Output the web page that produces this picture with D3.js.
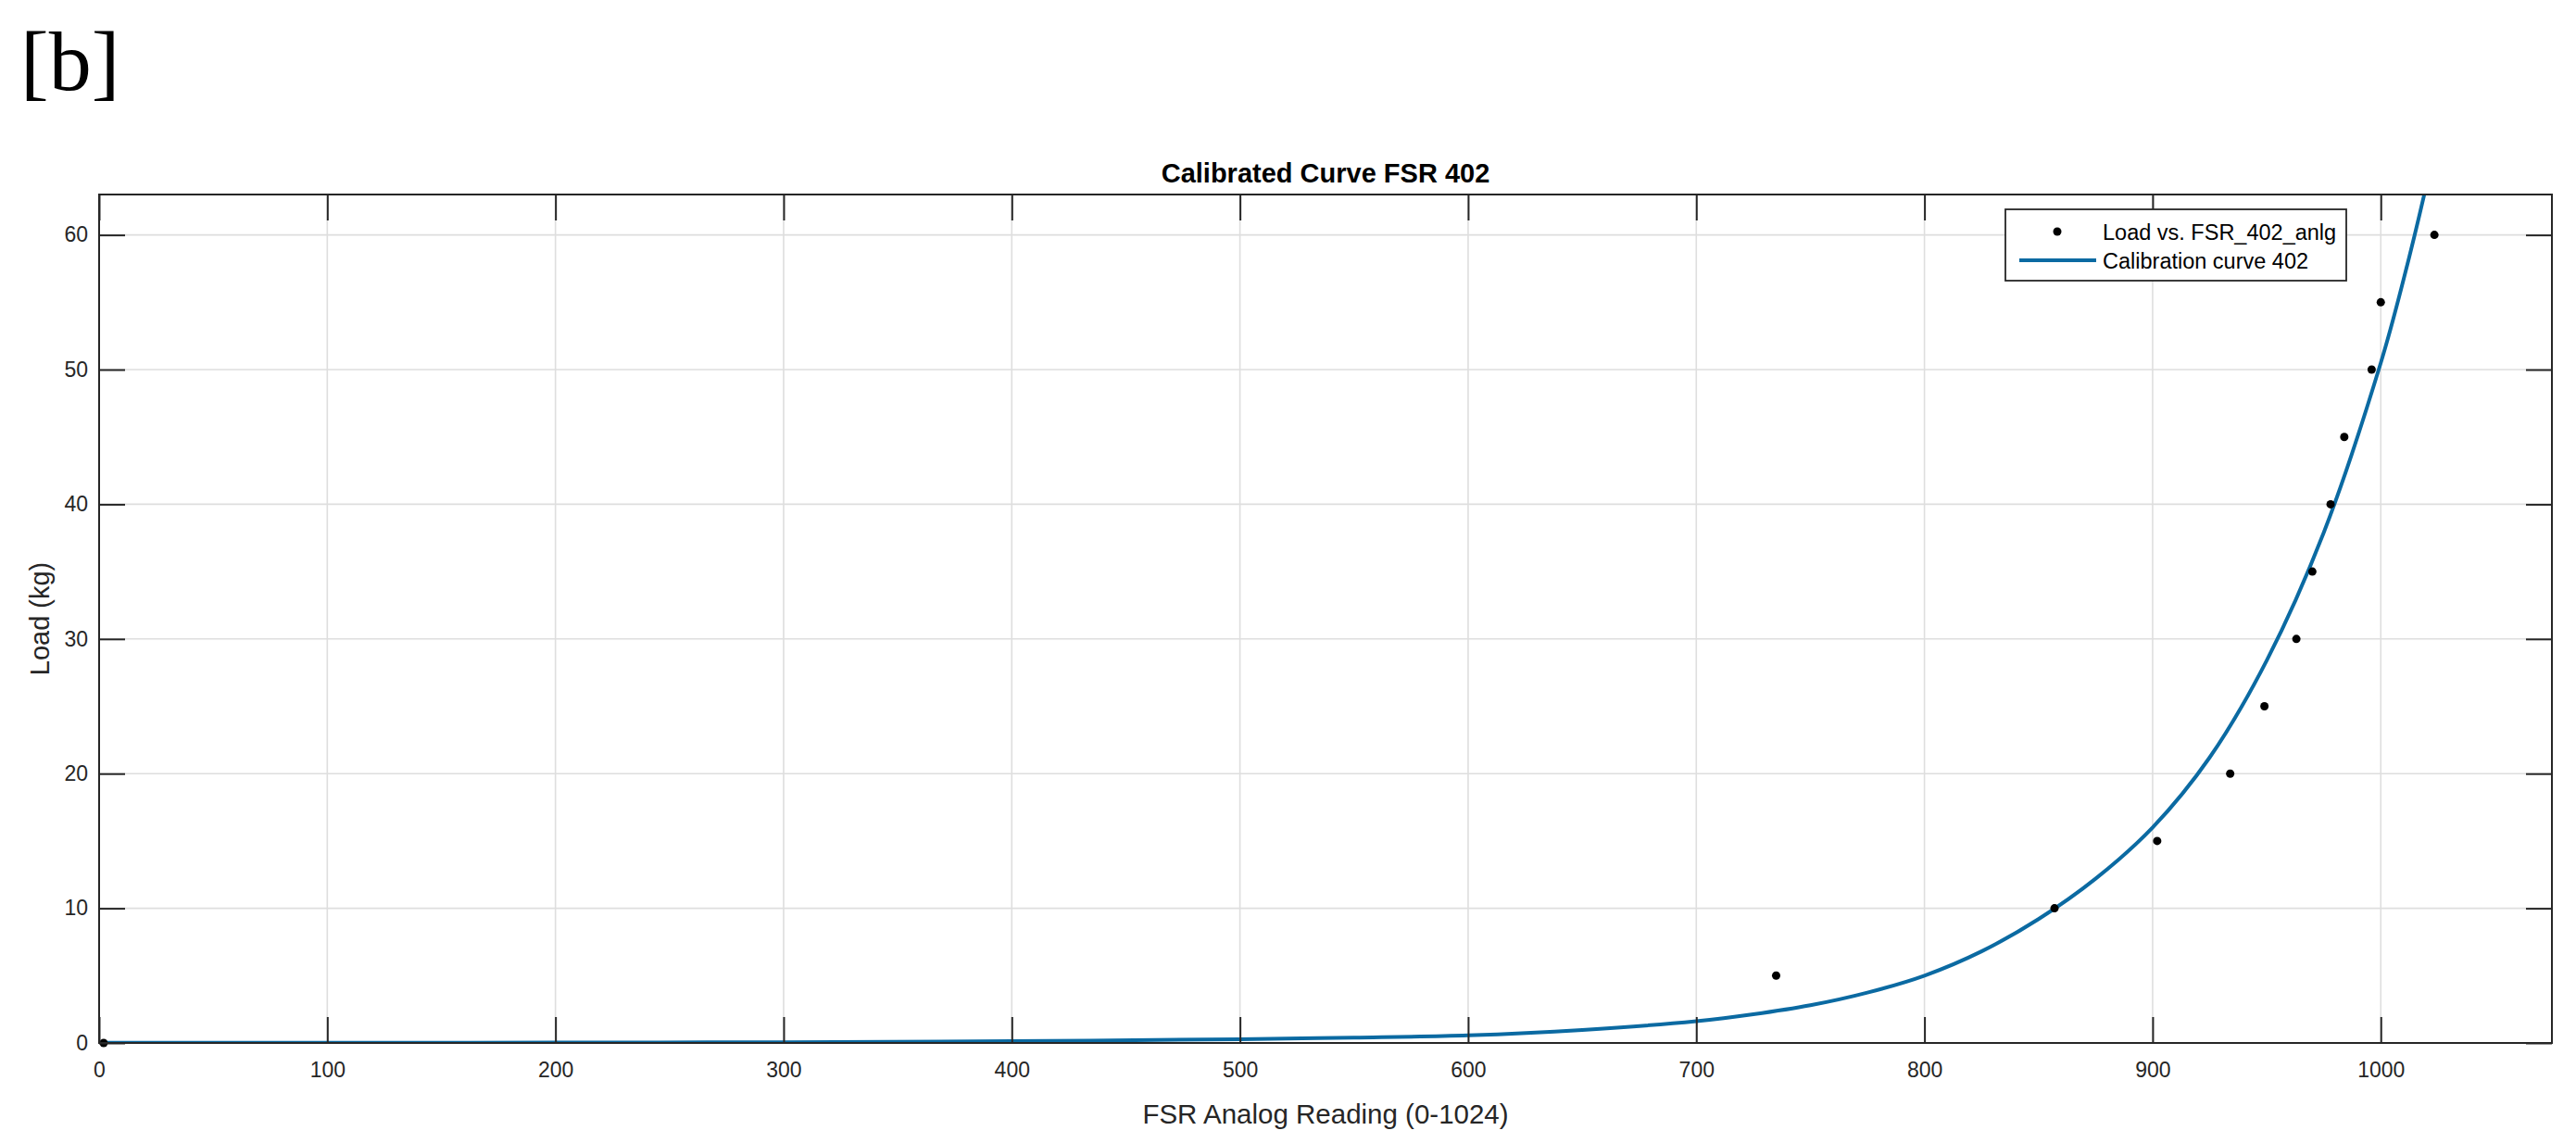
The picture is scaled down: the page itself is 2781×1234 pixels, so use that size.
<!DOCTYPE html>
<html>
<head>
<meta charset="utf-8">
<script src="https://cdn.jsdelivr.net/npm/d3@7"></script>
<style>
  html, body { margin: 0; padding: 0; background: #fff; }
  svg { display: block; }
</style>
</head>
<body>
<svg id="chart" width="2781" height="1234"></svg>
<script>
// ---- data ----
const pointX = [2, 735, 857, 902, 934, 949, 963, 970, 978, 984, 996, 1000, 1023.5];
const pointY = [0, 5, 10, 15, 20, 25, 30, 35, 40, 45, 50, 55, 60];

const curveX = [0, 100, 200, 300, 400, 500, 550, 600, 650, 700, 725, 750, 775, 800, 825, 850, 875, 900, 925, 950, 975, 1000, 1010, 1020, 1030];
const curveY = [0.01, 0.02, 0.03, 0.06, 0.13, 0.28, 0.4, 0.57, 0.97, 1.62, 2.13, 2.8, 3.74, 5.0, 6.8, 9.2, 12.2, 16.0, 21.2, 28.4, 37.9, 50.5, 56.7, 63.7, 71.5];

const xTicks = [0, 100, 200, 300, 400, 500, 600, 700, 800, 900, 1000];
const yTicks = [0, 10, 20, 30, 40, 50, 60];
const xDomain = [0, 1075];
const yDomain = [0, 63];

const panelLabel = "[b]";
const titleText = "Calibrated Curve FSR 402";
const xLabelText = "FSR Analog Reading (0-1024)";
const yLabelText = "Load (kg)";
const legendLabels = ["Load vs. FSR_402_anlg", "Calibration curve 402"];

// ---- layout ----
const pL = 107, pR = 2755, pT = 210, pB = 1126;
const pW = pR - pL, pH = pB - pT;
const FONT = "'Liberation Sans', Arial, Helvetica, sans-serif";
const AX = "#262626";
const LINE = "#0b6aa2";

const svg = d3.select("#chart");

const x = d3.scaleLinear().domain(xDomain).range([pL, pR]);
const y = d3.scaleLinear().domain(yDomain).range([pB, pT]);

// panel label
svg.append("text")
  .attr("x", 22).attr("y", 97)
  .attr("font-family", "'Liberation Serif', 'Times New Roman', serif")
  .attr("font-size", 92)
  .attr("fill", "#000")
  .text(panelLabel);

// grid
const grid = svg.append("g");
grid.selectAll("line.gx").data(xTicks).enter().append("line")
  .attr("x1", d => x(d)).attr("x2", d => x(d))
  .attr("y1", pT).attr("y2", pB)
  .attr("stroke", "#dedede").attr("stroke-width", 1.6);
grid.selectAll("line.gy").data(yTicks).enter().append("line")
  .attr("x1", pL).attr("x2", pR)
  .attr("y1", d => y(d)).attr("y2", d => y(d))
  .attr("stroke", "#dedede").attr("stroke-width", 1.6);

// clip
svg.append("clipPath").attr("id", "plotclip")
  .append("rect").attr("x", pL).attr("y", pT).attr("width", pW).attr("height", pH);

const plot = svg.append("g").attr("clip-path", "url(#plotclip)");

const curveData = curveX.map((v, i) => [v, curveY[i]]);
plot.append("path")
  .datum(curveData)
  .attr("fill", "none")
  .attr("stroke", LINE)
  .attr("stroke-width", 4)
  .attr("d", d3.line().x(d => x(d[0])).y(d => y(d[1])).curve(d3.curveCatmullRom.alpha(0.5)));

const pts = pointX.map((v, i) => [v, pointY[i]]);
svg.append("g").selectAll("circle").data(pts).enter().append("circle")
  .attr("cx", d => x(d[0])).attr("cy", d => y(d[1]))
  .attr("r", 4.5).attr("fill", "#000");

// axes
const tickLen = 28;
function styleAxis(g) {
  g.select(".domain").remove();
  g.selectAll(".tick line").attr("stroke", AX).attr("stroke-width", 2);
  g.selectAll(".tick text").attr("fill", AX).attr("font-family", FONT).attr("font-size", 23);
}
const xAxisB = svg.append("g").attr("transform", `translate(0,${pB})`)
  .call(d3.axisBottom(x).tickValues(xTicks).tickSize(-tickLen).tickPadding(21).tickFormat(d3.format("d")));
styleAxis(xAxisB);
const xAxisT = svg.append("g").attr("transform", `translate(0,${pT})`)
  .call(d3.axisTop(x).tickValues(xTicks).tickSize(-tickLen).tickFormat(""));
styleAxis(xAxisT);
const yAxisL = svg.append("g").attr("transform", `translate(${pL},0)`)
  .call(d3.axisLeft(y).tickValues(yTicks).tickSize(-tickLen).tickPadding(12).tickFormat(d3.format("d")));
styleAxis(yAxisL);
const yAxisR = svg.append("g").attr("transform", `translate(${pR},0)`)
  .call(d3.axisRight(y).tickValues(yTicks).tickSize(-tickLen).tickFormat(""));
styleAxis(yAxisR);

// box
svg.append("rect")
  .attr("x", pL).attr("y", pT).attr("width", pW).attr("height", pH)
  .attr("fill", "none").attr("stroke", AX).attr("stroke-width", 2);

// title
svg.append("text")
  .attr("x", (pL + pR) / 2).attr("y", 197)
  .attr("text-anchor", "middle")
  .attr("font-family", FONT).attr("font-weight", "bold").attr("font-size", 29)
  .attr("fill", "#000")
  .text(titleText);

// axis labels
svg.append("text")
  .attr("x", (pL + pR) / 2).attr("y", 1213)
  .attr("text-anchor", "middle")
  .attr("font-family", FONT).attr("font-size", 29.5)
  .attr("fill", AX)
  .text(xLabelText);

svg.append("text")
  .attr("transform", `translate(53,${(pT + pB) / 2}) rotate(-90)`)
  .attr("text-anchor", "middle")
  .attr("font-family", FONT).attr("font-size", 29)
  .attr("fill", AX)
  .text(yLabelText);

// legend
const lg = svg.append("g");
lg.append("rect")
  .attr("x", 2165).attr("y", 226).attr("width", 368).attr("height", 77)
  .attr("fill", "#fff").attr("stroke", AX).attr("stroke-width", 1.8);
lg.append("circle").attr("cx", 2221).attr("cy", 250).attr("r", 4.5).attr("fill", "#000");
lg.append("line")
  .attr("x1", 2180).attr("x2", 2263).attr("y1", 281).attr("y2", 281)
  .attr("stroke", LINE).attr("stroke-width", 4);
lg.selectAll("text.lt").data(legendLabels).enter().append("text")
  .attr("x", 2270).attr("y", (d, i) => 259 + i * 31)
  .attr("font-family", FONT).attr("font-size", 23.5)
  .attr("fill", "#000")
  .text(d => d);
</script>
</body>
</html>
